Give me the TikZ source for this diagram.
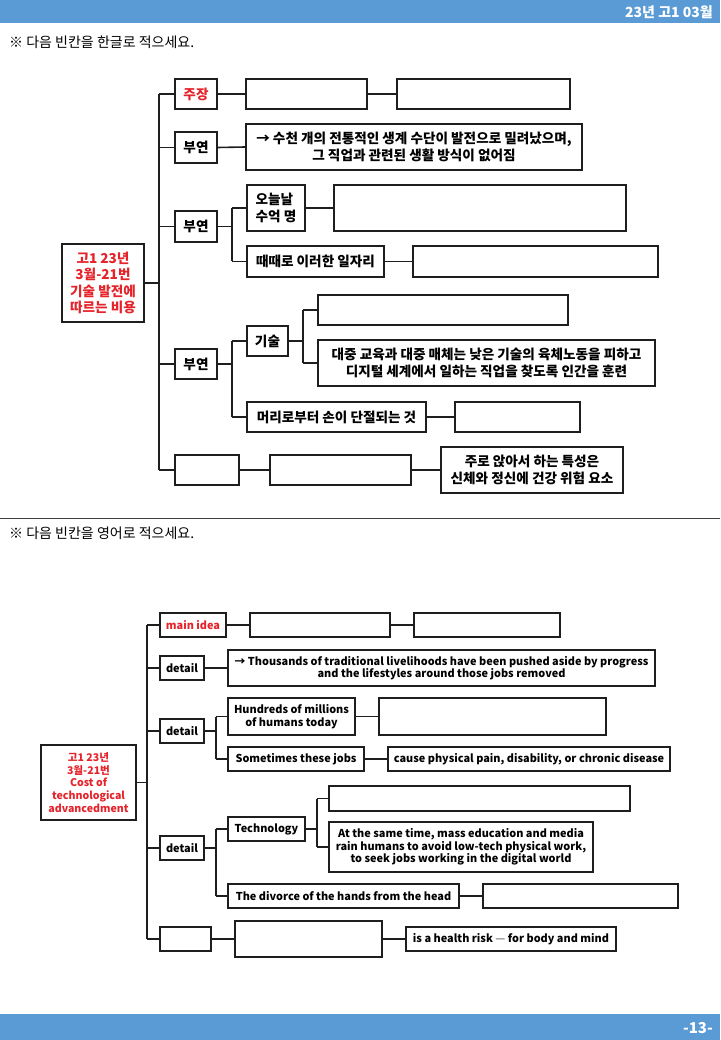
\documentclass[tikz,border=0pt]{standalone}
\usepackage{fontspec}
\setmainfont{Noto Sans CJK KR}
\definecolor{hdr}{HTML}{5B9BD5}
\definecolor{redtxt}{HTML}{E5232B}
\definecolor{ink}{HTML}{1E1E1E}
\newcommand\mybox[7][]{\node[#1,minimum width={(#5)-(#3)},minimum height={(#6)-(#4)}] (#2) at ({((#3)+(#5))/2},{((#4)+(#6))/2}) {#7};}
\tikzset{
  tbox/.style={draw=ink, line width=1.6pt, inner sep=0pt, align=center, font=\fontsize{13.6}{16.4}\selectfont\bfseries},
  bbox/.style={draw=ink, line width=1.1pt, inner sep=0pt, align=center, font=\fontsize{10.9}{12.6}\selectfont\bfseries},
  tline/.style={draw=ink, line width=1.6pt},
  bline/.style={draw=ink, line width=1.1pt},
  rtext/.style={text=redtxt},
  title/.style={anchor=west, inner sep=0pt, font=\fontsize{14}{16}\selectfont},
  bartext/.style={anchor=east, inner sep=0pt, text=white, font=\fontsize{14}{16}\selectfont\bfseries}
}
\begin{document}
\begin{tikzpicture}[x=1pt,y=-1pt]
\useasboundingbox (0,0) rectangle (720,1040);
% header / footer
\fill[hdr] (0,0) rectangle (720,23);
\node[bartext] (hdrtxt) at (713,12) {23년 고1 03월};
\fill[hdr] (0,1014) rectangle (720,1040);
\node[bartext,font=\fontsize{15}{16}\selectfont\bfseries] (pagenum) at (713,1028) {-13-};
\node[title] (title1) at (9,42) {※ 다음 빈칸을 한글로 적으세요.};
\draw[black!75, line width=0.9pt] (0,518) -- (720,518);
\node[title] (title2) at (9,533) {※ 다음 빈칸을 영어로 적으세요.};

% ================= TOP DIAGRAM =================
\mybox[tbox,rtext]{root}{62}{244}{144}{322}{고1 23년\\3월-21번\\기술 발전에\\따르는 비용}
\coordinate (T) at (159,0);
\coordinate (S) at (232,0);
\coordinate (U) at (303,0);
\mybox[tbox,rtext]{b1}{175}{79}{217}{109}{주장}
\mybox[tbox]{d11}{246}{79}{367}{109}{}
\mybox[tbox]{d12}{397}{79}{570}{109}{}
\mybox[tbox]{b2}{175}{132}{217}{163}{부연}
\mybox[tbox]{d2}{246}{124}{582}{170}{→ 수천 개의 전통적인 생계 수단이 발전으로 밀려났으며,\\그 직업과 관련된 생활 방식이 없어짐}
\mybox[tbox]{b3}{175}{211}{217}{242}{부연}
\mybox[tbox,align=left]{c31}{247}{185}{305}{231}{오늘날\\수억 명}
\mybox[tbox]{d31}{334}{185}{626}{231}{}
\mybox[tbox]{c32}{247}{246}{384}{277}{때때로 이러한 일자리}
\mybox[tbox]{d32}{413}{246}{658}{277}{}
\mybox[tbox]{b4}{175}{349}{217}{379}{부연}
\mybox[tbox]{c41}{247}{326}{288}{356}{기술}
\mybox[tbox]{e41}{318}{295}{568}{325}{}
\mybox[tbox]{e42}{318}{340}{655}{386}{대중 교육과 대중 매체는 낮은 기술의 육체노동을 피하고\\디지털 세계에서 일하는 직업을 찾도록 인간을 훈련}
\mybox[tbox]{c42}{247}{402}{426}{432}{머리로부터 손이 단절되는 것}
\mybox[tbox]{d42}{455}{402}{580}{432}{}
\mybox[tbox]{b5}{175}{455}{239}{485}{}
\mybox[tbox]{c5}{270}{455}{411}{485}{}
\mybox[tbox]{d5}{441}{447}{623}{493}{주로 앉아서 하는 특성은\\신체와 정신에 건강 위험 요소}

\draw[tline] (root.east) -- (root.east -| T);
\draw[tline] (b1.west -| T) -- (b5.west -| T);
\foreach \n in {b1,b2,b3,b4,b5} \draw[tline] (\n.west -| T) -- (\n.west);
\draw[tline] (b1.east) -- (d11.west);
\draw[tline] (d11.east) -- (d12.west);
\draw[tline] (b2.east) -- (d2.west);
\draw[tline] (b3.east) -- (b3.east -| S);
\draw[tline] (c31.west -| S) -- (c32.west -| S);
\draw[tline] (c31.west -| S) -- (c31.west);
\draw[tline] (c32.west -| S) -- (c32.west);
\draw[tline] (c31.east) -- (d31.west);
\draw[tline] (c32.east) -- (d32.west);
\draw[tline] (b4.east) -- (b4.east -| S);
\draw[tline] (c41.west -| S) -- (c42.west -| S);
\draw[tline] (c41.west -| S) -- (c41.west);
\draw[tline] (c42.west -| S) -- (c42.west);
\draw[tline] (c41.east) -- (c41.east -| U);
\draw[tline] (e41.west -| U) -- (e42.west -| U);
\draw[tline] (e41.west -| U) -- (e41.west);
\draw[tline] (e42.west -| U) -- (e42.west);
\draw[tline] (c42.east) -- (d42.west);
\draw[tline] (b5.east) -- (c5.west);
\draw[tline] (c5.east) -- (d5.west);

% ================= BOTTOM DIAGRAM =================
\mybox[bbox,rtext,font=\fontsize{10.6}{12.6}\selectfont\bfseries]{broot}{41}{745}{136}{820}{고1 23년\\3월-21번\\Cost of\\technological\\advancedment}
\coordinate (TT) at (147,0);
\coordinate (SS) at (216,0);
\coordinate (UU) at (317,0);
\mybox[bbox,rtext]{B1}{160}{613}{226}{637}{main idea}
\mybox[bbox]{D11}{250}{613}{390}{637}{}
\mybox[bbox]{D12}{414}{613}{560}{637}{}
\mybox[bbox]{B2}{160}{656}{204}{680}{detail}
\mybox[bbox]{D2}{228}{650}{655}{686}{→ Thousands of traditional livelihoods have been pushed aside by progress\\and the lifestyles around those jobs removed}
\mybox[bbox]{B3}{160}{719}{204}{743}{detail}
\mybox[bbox]{C31}{228}{698}{355}{735}{Hundreds of millions\\of humans today}
\mybox[bbox]{D31}{379}{698}{606}{735}{}
\mybox[bbox]{C32}{228}{747}{364}{771}{Sometimes these jobs}
\mybox[bbox]{D32}{388}{747}{670}{771}{cause physical pain, disability, or chronic disease}
\mybox[bbox]{B4}{160}{836}{204}{860}{detail}
\mybox[bbox]{C41}{228}{817}{305}{841}{Technology}
\mybox[bbox]{E41}{329}{786}{630}{811}{}
\mybox[bbox]{E42}{329}{822}{593}{872}{At the same time, mass education and media\\rain humans to avoid low-tech physical work,\\to seek jobs working in the digital world}
\mybox[bbox]{C42}{228}{884}{459}{908}{The divorce of the hands from the head}
\mybox[bbox]{D42}{483}{884}{678}{908}{}
\mybox[bbox]{B5}{160}{927}{211}{951}{}
\mybox[bbox]{C5}{235}{921}{382}{957}{}
\mybox[bbox]{D5}{406}{927}{616}{951}{is a health risk {\color{black!45}—} for body and mind}

\draw[bline] (broot.east) -- (broot.east -| TT);
\draw[bline] (B1.west -| TT) -- (B5.west -| TT);
\foreach \n in {B1,B2,B3,B4,B5} \draw[bline] (\n.west -| TT) -- (\n.west);
\draw[bline] (B1.east) -- (D11.west);
\draw[bline] (D11.east) -- (D12.west);
\draw[bline] (B2.east) -- (D2.west);
\draw[bline] (B3.east) -- (B3.east -| SS);
\draw[bline] (C31.west -| SS) -- (C32.west -| SS);
\draw[bline] (C31.west -| SS) -- (C31.west);
\draw[bline] (C32.west -| SS) -- (C32.west);
\draw[bline] (C31.east) -- (D31.west);
\draw[bline] (C32.east) -- (D32.west);
\draw[bline] (B4.east) -- (B4.east -| SS);
\draw[bline] (C41.west -| SS) -- (C42.west -| SS);
\draw[bline] (C41.west -| SS) -- (C41.west);
\draw[bline] (C42.west -| SS) -- (C42.west);
\draw[bline] (C41.east) -- (C41.east -| UU);
\draw[bline] (E41.west -| UU) -- (E42.west -| UU);
\draw[bline] (E41.west -| UU) -- (E41.west);
\draw[bline] (E42.west -| UU) -- (E42.west);
\draw[bline] (C42.east) -- (D42.west);
\draw[bline] (B5.east) -- (C5.west);
\draw[bline] (C5.east) -- (D5.west);
\end{tikzpicture}
\end{document}
